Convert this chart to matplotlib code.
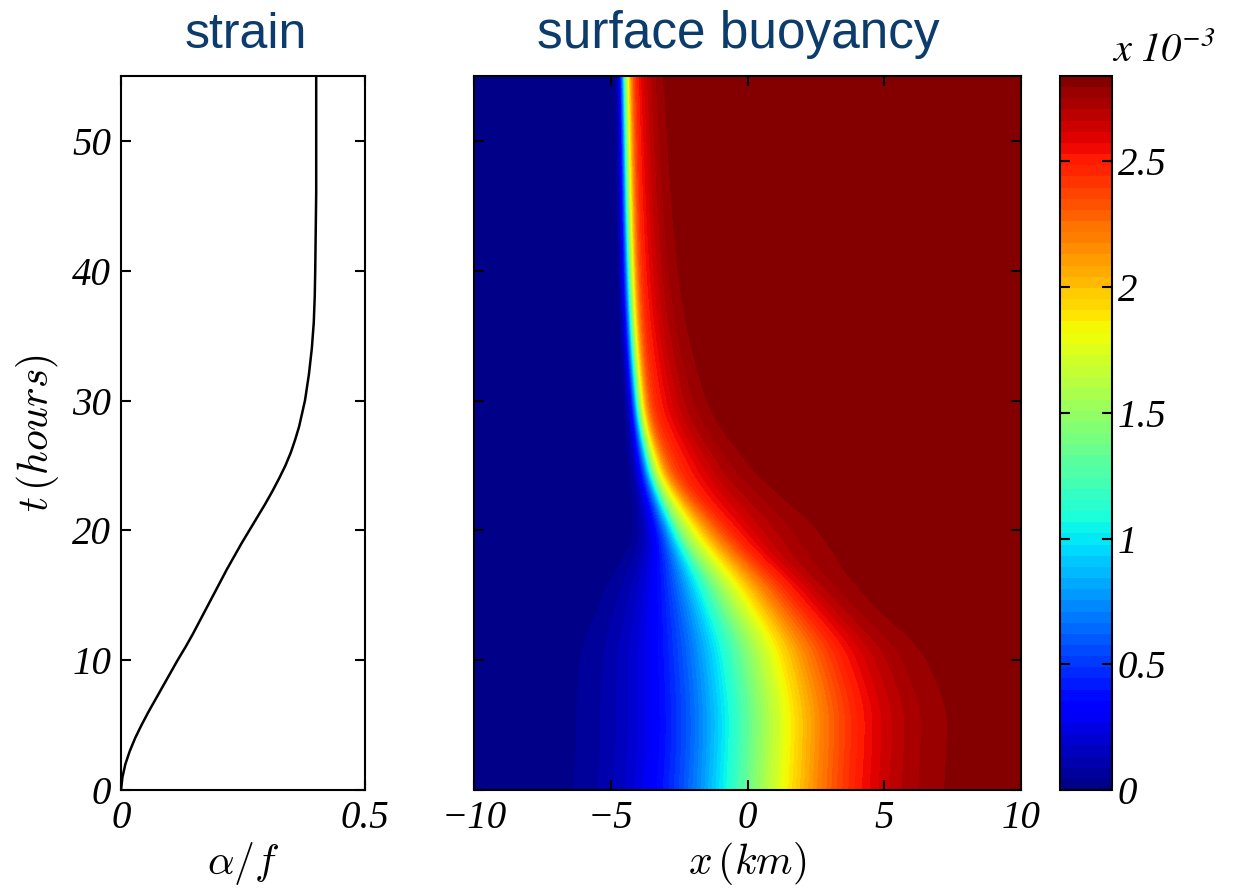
import math
import numpy as np
import matplotlib
matplotlib.use("Agg")
import matplotlib.pyplot as plt

# ---- strain data (alpha/f vs time in hours) ----
t_strain = [0, 1, 2, 3, 4, 5, 6, 7, 8, 9, 10, 11, 12, 13, 14, 15, 16, 17, 18,
            19, 20, 21, 22, 23, 24, 25, 26, 27, 28, 29, 30, 32, 34, 36, 38,
            40, 43, 46, 50, 55]
alpha_f = [0, 0.003, 0.009, 0.018, 0.029, 0.042, 0.056, 0.071, 0.086, 0.101,
           0.116, 0.132, 0.147, 0.161, 0.175, 0.189, 0.203, 0.217, 0.232,
           0.247, 0.263, 0.279, 0.295, 0.310, 0.324, 0.337, 0.348, 0.357,
           0.365, 0.371, 0.377, 0.385, 0.391, 0.395, 0.397, 0.398, 0.399,
           0.400, 0.400, 0.400]

# ---- surface buoyancy front parameters ----
t_front = [0, 5, 10, 15, 20, 25, 30, 40, 55]                          # hours
x_center = [0.2, 0.3, 0.0, -1.0, -2.45, -3.5, -3.97, -4.28, -4.45]     # km
width_left = [4.3, 4.3, 4.0, 2.8, 1.15, 0.55, 0.35, 0.3, 0.25]        # km
width_right = [4.6, 4.6, 4.3, 3.2, 1.5, 0.55, 0.35, 0.3, 0.28]        # km
width_tail = [4.6, 4.6, 4.3, 4.3, 3.9, 2.8, 2.0, 1.4, 1.1]            # km
tail_frac = [0.0, 0.0, 0.0, 0.2, 0.45, 0.45, 0.4, 0.4, 0.4]
b_max = 2.84e-3

cbar_ticks = [0, 0.5e-3, 1e-3, 1.5e-3, 2e-3, 2.5e-3]
cbar_labels = ["0", "0.5", "1", "1.5", "2", "2.5"]


def pchip(xk, yk, xq):
    xk = np.asarray(xk, float)
    yk = np.asarray(yk, float)
    h = np.diff(xk)
    d = np.diff(yk) / h
    m = np.zeros_like(yk)
    m[0], m[-1] = d[0], d[-1]
    for k in range(1, len(xk) - 1):
        if d[k - 1] * d[k] > 0:
            w1 = 2 * h[k] + h[k - 1]
            w2 = h[k] + 2 * h[k - 1]
            m[k] = (w1 + w2) / (w1 / d[k - 1] + w2 / d[k])
    idx = np.clip(np.searchsorted(xk, xq) - 1, 0, len(xk) - 2)
    s = (xq - xk[idx]) / h[idx]
    h00 = 2 * s**3 - 3 * s**2 + 1
    h10 = s**3 - 2 * s**2 + s
    h01 = -2 * s**3 + 3 * s**2
    h11 = s**3 - s**2
    return (h00 * yk[idx] + h10 * h[idx] * m[idx] + h01 * yk[idx + 1]
            + h11 * h[idx] * m[idx + 1])


plt.rcParams['font.family'] = ['Liberation Serif', 'DejaVu Serif']
plt.rcParams['font.style'] = 'italic'
plt.rcParams['axes.linewidth'] = 1.5

fig = plt.figure(figsize=(12.34, 8.88), dpi=100)
W, H = 1234, 888


def rect(x0, x1, y0, y1):
    return [x0 / W, 1 - y1 / H, (x1 - x0) / W, (y1 - y0) / H]


ax1 = fig.add_axes(rect(121, 365, 76, 790))
ax2 = fig.add_axes(rect(474, 1021, 76, 790))
cax = fig.add_axes(rect(1060, 1112, 76, 790))

# left panel
ax1.plot(alpha_f, t_strain, color='black', lw=1.8)
ax1.set_xlim(0, 0.5)
ax1.set_ylim(0, 55)
ax1.set_xticks([0, 0.5])
ax1.set_xticklabels(["0", "0.5"])
ax1.set_yticks([0, 10, 20, 30, 40, 50])
ax1.set_xlabel(r'$\alpha/f$', fontsize=30, math_fontfamily='cm', labelpad=2)
ax1.set_ylabel(r'$t\,(hours)$', fontsize=30, math_fontfamily='cm', labelpad=8)

# right panel
x = np.linspace(-10, 10, 801)
t = np.linspace(0, 55, 551)
X, T = np.meshgrid(x, t)
xc = pchip(t_front, x_center, t)[:, None]
wl = pchip(t_front, width_left, t)[:, None]
wr = pchip(t_front, width_right, t)[:, None]
wt = pchip(t_front, width_tail, t)[:, None]
af = np.clip(pchip(t_front, tail_frac, t), 0, 1)[:, None]
erf = np.frompyfunc(math.erf, 1, 1)
dx = X - xc
left = erf(dx / wl).astype(float)
right = ((1 - af) * erf(dx / wr).astype(float)
         + af * erf(dx / wt).astype(float))
B = b_max * 0.5 * (1 + np.where(dx < 0, left, right))
levels = np.linspace(0, b_max, 65)
cf = ax2.contourf(X, T, B, levels=levels, cmap='jet', vmin=0, vmax=b_max)
ax2.set_xlim(-10, 10)
ax2.set_ylim(0, 55)
ax2.set_xticks([-10, -5, 0, 5, 10])
ax2.set_yticks([0, 10, 20, 30, 40, 50])
ax2.set_yticklabels([])
ax2.set_xlabel(r'$x\,(km)$', fontsize=30, math_fontfamily='cm', labelpad=2)

for ax in (ax1, ax2):
    ax.tick_params(direction='in', length=7, width=1.5, top=True, right=True,
                   labelsize=28, pad=7)

cb = fig.colorbar(cf, cax=cax, ticks=cbar_ticks)
cb.ax.set_yticklabels(cbar_labels)
cb.ax.tick_params(direction='in', length=7, width=1.5, left=True, right=True,
                  labelsize=28, pad=4)
cb.outline.set_linewidth(1.5)
fig.text(1112 / W, 1 - 62 / H, r'$\mathit{x\ 10^{-3}}$', fontsize=29,
         math_fontfamily='stix', ha='left', va='baseline')

title_color = '#0b3c6b'
fig.text(246 / W, 1 - 48 / H, 'strain', fontsize=36, family='Liberation Sans',
         style='normal', color=title_color, ha='center', va='baseline')
fig.text(738 / W, 1 - 48 / H, 'surface buoyancy', fontsize=37,
         family='Liberation Sans', style='normal', color=title_color,
         ha='center', va='baseline')

fig.savefig('out.png', dpi=100)
